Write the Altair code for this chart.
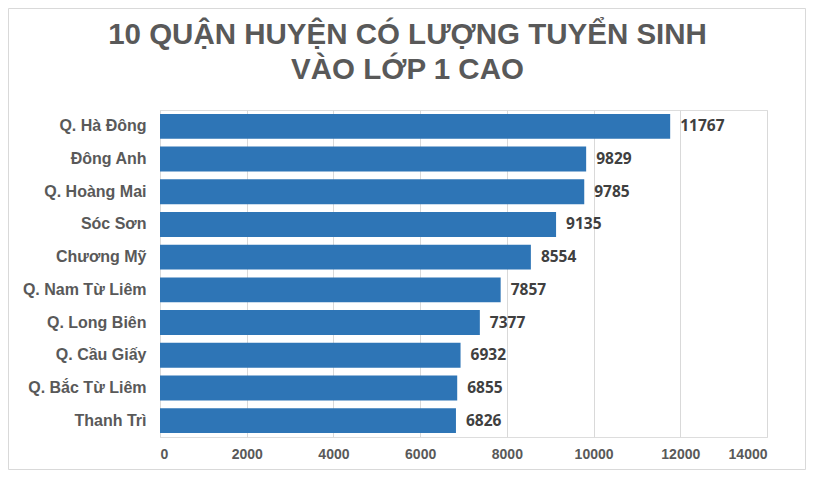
import altair as alt
import pandas as pd

districts = ["Q. Hà Đông", "Đông Anh", "Q. Hoàng Mai", "Sóc Sơn", "Chương Mỹ",
             "Q. Nam Từ Liêm", "Q. Long Biên", "Q. Cầu Giấy", "Q. Bắc Từ Liêm", "Thanh Trì"]
students = [11767, 9829, 9785, 9135, 8554, 7857, 7377, 6932, 6855, 6826]
x_ticks = [0, 2000, 4000, 6000, 8000, 10000, 12000, 14000]
title_lines = ["10 QUẬN HUYỆN CÓ LƯỢNG TUYỂN SINH", "VÀO LỚP 1 CAO"]

df = pd.DataFrame({"district": districts, "students": students})

W, H = 607, 327
PL, PT = 152, 102
TOTAL_W, TOTAL_H = 798, 462

base = alt.Chart(df)

y_enc = alt.Y("district:N", sort=districts, title=None,
              scale=alt.Scale(paddingInner=0.24, paddingOuter=0.12),
              axis=alt.Axis(ticks=False, domain=True, domainColor="#D9D9D9",
                            labelFont="Liberation Sans", labelFontSize=16,
                            labelFontWeight="bold", labelColor="#595959",
                            labelPadding=14))
x_enc = alt.X("students:Q", title=None,
              scale=alt.Scale(domain=[0, 14000], nice=False),
              axis=alt.Axis(values=x_ticks, ticks=False, domain=False,
                            grid=True, gridColor="#D9D9D9", gridWidth=1,
                            labelFont="Liberation Sans", labelFontSize=14,
                            labelFontWeight="bold", labelColor="#595959",
                            labelPadding=10, format="d"))

bars = base.mark_bar(color="#2E75B6").encode(x=x_enc, y=y_enc)

labels = base.mark_text(align="left", baseline="middle", dx=10,
                        font="Open Sans", fontSize=15.5, fontWeight="bold",
                        color="#404040").encode(
    x="students:Q", y=alt.Y("district:N", sort=districts),
    text=alt.Text("students:Q", format="d"))

frame = alt.Chart(pd.DataFrame({"k": [0]})).mark_rect(
    fill=None, stroke="#D9D9D9", strokeWidth=1).encode(
    x=alt.value(-PL + 0.5), x2=alt.value(TOTAL_W - PL - 0.5),
    y=alt.value(-PT + 0.5), y2=alt.value(TOTAL_H - PT - 0.5))

chart = alt.layer(frame, bars, labels).properties(
    width=W, height=H,
    autosize=alt.AutoSizeParams(type="none"),
    padding={"left": PL, "top": PT, "right": TOTAL_W - PL - W, "bottom": TOTAL_H - PT - H},
    title=alt.TitleParams(text=title_lines, font="Liberation Sans", fontSize=29.5,
                          fontWeight="bold", color="#595959", anchor="middle",
                          frame="group", dx=-56, offset=-106, lineHeight=35,
                          baseline="bottom"),
).configure_view(stroke=None).configure(background="white")

chart.save("out.html", embed_options={"renderer": "svg", "actions": False})
